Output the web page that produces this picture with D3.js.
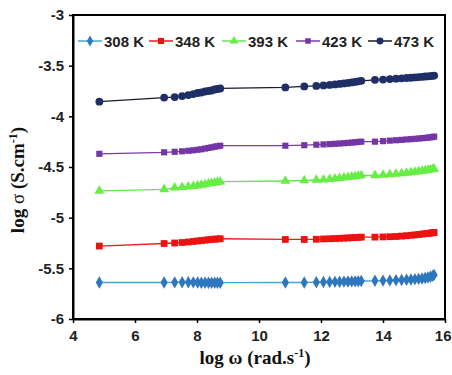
<!DOCTYPE html>
<html><head><meta charset="utf-8">
<script src="https://cdn.jsdelivr.net/npm/d3@7"></script>
<style>body{margin:0;background:#fff}svg{display:block}</style>
</head><body>
<script>
const xTicks = [4, 6, 8, 10, 12, 14, 16];
const yTicks = [-3, -3.5, -4, -4.5, -5, -5.5, -6];
const seriesNames = ["308 K", "348 K", "393 K", "423 K", "473 K"];
const logOmega = [4.85, 6.94, 7.28, 7.52, 7.72, 7.88, 8.02, 8.14, 8.26, 8.37, 8.47, 8.57, 8.66, 8.75,
  10.85, 11.46, 11.85, 12.08, 12.28, 12.45, 12.6, 12.74, 12.87, 12.99, 13.1, 13.2, 13.3,
  13.74, 14.0, 14.22, 14.42, 14.6, 14.76, 14.9, 15.03, 15.15, 15.26, 15.36, 15.45, 15.53, 15.6, 15.65];
const s308 = [-5.64, -5.64, -5.638, -5.637, -5.637, -5.638, -5.64, -5.642, -5.642, -5.642, -5.642, -5.642, -5.642, -5.642,
  -5.64, -5.64, -5.637, -5.635, -5.634, -5.633, -5.632, -5.631, -5.63, -5.629, -5.628, -5.627, -5.625,
  -5.623, -5.621, -5.619, -5.617, -5.615, -5.613, -5.61, -5.607, -5.604, -5.6, -5.595, -5.59, -5.583, -5.575, -5.565];
const s348 = [-5.28, -5.255, -5.25, -5.245, -5.24, -5.235, -5.23, -5.226, -5.222, -5.218, -5.215, -5.212, -5.21, -5.208,
  -5.215, -5.215, -5.213, -5.21, -5.208, -5.206, -5.204, -5.202, -5.2, -5.198, -5.196, -5.194, -5.192,
  -5.192, -5.19, -5.188, -5.186, -5.182, -5.178, -5.174, -5.17, -5.166, -5.162, -5.158, -5.155, -5.152, -5.149, -5.146];
const s393 = [-4.735, -4.72, -4.705, -4.7, -4.695, -4.69, -4.683, -4.677, -4.671, -4.665, -4.66, -4.655, -4.65, -4.645,
  -4.638, -4.633, -4.628, -4.624, -4.62, -4.615, -4.61, -4.605, -4.6, -4.596, -4.592, -4.588, -4.584,
  -4.582, -4.578, -4.573, -4.568, -4.563, -4.558, -4.553, -4.548, -4.543, -4.538, -4.534, -4.53, -4.526, -4.522, -4.518];
const s423 = [-4.37, -4.355, -4.35, -4.345, -4.34, -4.335, -4.33, -4.325, -4.318, -4.312, -4.306, -4.3, -4.295, -4.29,
  -4.29, -4.285, -4.28, -4.277, -4.274, -4.271, -4.268, -4.265, -4.262, -4.259, -4.256, -4.253, -4.25,
  -4.25, -4.245, -4.24, -4.236, -4.232, -4.228, -4.225, -4.222, -4.219, -4.216, -4.213, -4.21, -4.207, -4.204, -4.2];
const s473 = [-3.855, -3.815, -3.81, -3.8, -3.79, -3.78, -3.77, -3.765, -3.755, -3.75, -3.745, -3.735, -3.73, -3.725,
  -3.715, -3.705, -3.7, -3.695, -3.69, -3.685, -3.68, -3.675, -3.67, -3.665, -3.66, -3.655, -3.65,
  -3.64, -3.637, -3.632, -3.628, -3.625, -3.622, -3.619, -3.616, -3.613, -3.61, -3.607, -3.605, -3.603, -3.6, -3.598];

const seriesValues = [s308, s348, s393, s423, s473];
const lineColors = ["#45a3d6", "#ee1c1c", "#5fe84a", "#7a3ca8", "#1a1a2e"];
const markColors = ["#2f77bd", "#ee1111", "#66ee44", "#7436a6", "#1f2f66"];
const shapes = [d3.symbolDiamond, d3.symbolSquare, d3.symbolTriangle, d3.symbolSquare, d3.symbolCircle];
const sizes = [44, 46, 42, 38, 48];

const W = 452, H = 375;
const m = {left: 73, right: 445, top: 15, bottom: 319};
const svg = d3.select("body").append("svg").attr("width", W).attr("height", H);
const x = d3.scaleLinear().domain([4, 16]).range([m.left, m.right]);
const y = d3.scaleLinear().domain([-6, -3]).range([m.bottom, m.top]);

const tickFont = "'Liberation Sans', Arial, sans-serif";
const titleFont = "'Liberation Serif', 'Times New Roman', serif";

// series
const line = d3.line().x((d, i) => x(logOmega[i])).y(d => y(d));
seriesValues.forEach((vals, k) => {
  svg.append("path").datum(vals).attr("d", line)
    .attr("fill", "none").attr("stroke", lineColors[k]).attr("stroke-width", 1.3);
  svg.append("g").selectAll("path").data(vals).join("path")
    .attr("d", d3.symbol().type(shapes[k]).size(sizes[k]))
    .attr("transform", (d, i) => `translate(${x(logOmega[i])},${y(d)})`)
    .attr("fill", markColors[k]);
});

// axes
const xAxis = svg.append("g").attr("transform", `translate(0,${m.bottom})`)
  .call(d3.axisBottom(x).tickValues(xTicks).tickFormat(d => String(d)).tickSize(4).tickSizeOuter(0));
const yAxis = svg.append("g").attr("transform", `translate(${m.left},0)`)
  .call(d3.axisLeft(y).tickValues(yTicks).tickFormat(d => String(d)).tickSize(4).tickSizeOuter(0));
[xAxis, yAxis].forEach(a => {
  a.select(".domain").attr("stroke", "#000").attr("stroke-width", 2);
  a.selectAll(".tick line").attr("stroke", "#000").attr("stroke-width", 1.5);
  a.selectAll("text").attr("font-family", tickFont).attr("font-weight", "bold")
    .attr("font-size", 15).attr("fill", "#222");
});
xAxis.selectAll("text").attr("dy", "1.0em");
xAxis.selectAll(".tick").filter(d => d === 16).select("text")
  .attr("text-anchor", "end").attr("x", 6);
yAxis.selectAll("text").attr("x", -9);
// frame top/right
svg.append("rect").attr("x", m.left).attr("y", m.top)
  .attr("width", m.right - m.left).attr("height", m.bottom - m.top)
  .attr("fill", "none").attr("stroke", "#000").attr("stroke-width", 2);

// axis titles
const xt = svg.append("text").attr("x", 255).attr("y", 364).attr("text-anchor", "middle")
  .attr("font-family", titleFont).attr("font-weight", "bold").attr("font-size", 19).attr("fill", "#111");
xt.append("tspan").text("log ω (rad.s");
xt.append("tspan").attr("dy", -7).attr("font-size", 12).text("-1");
xt.append("tspan").attr("dy", 7).text(")");

const yt = svg.append("text").attr("transform", "translate(24,180) rotate(-90)").attr("text-anchor", "middle")
  .attr("font-family", titleFont).attr("font-weight", "bold").attr("font-size", 19).attr("fill", "#111");
yt.append("tspan").text("log ");
yt.append("tspan").attr("font-weight", "normal").text("σ");
yt.append("tspan").text(" (S.cm");
yt.append("tspan").attr("dy", -7).attr("font-size", 12).text("-1");
yt.append("tspan").attr("dy", 7).text(")");

// legend
const legX = [78, 149, 222, 296, 368];
const legY = 41;
seriesNames.forEach((name, k) => {
  const g = svg.append("g").attr("transform", `translate(${legX[k]},${legY})`);
  g.append("line").attr("x1", 0).attr("x2", 24).attr("y1", 0).attr("y2", 0)
    .attr("stroke", lineColors[k]).attr("stroke-width", 1.5);
  g.append("path").attr("d", d3.symbol().type(shapes[k]).size(sizes[k] * 0.8))
    .attr("transform", "translate(12,0)").attr("fill", markColors[k]);
  g.append("text").attr("x", 26).attr("y", 5.5).text(name)
    .attr("font-family", tickFont).attr("font-weight", "bold").attr("font-size", 15).attr("fill", "#222");
});
</script>
</body></html>
